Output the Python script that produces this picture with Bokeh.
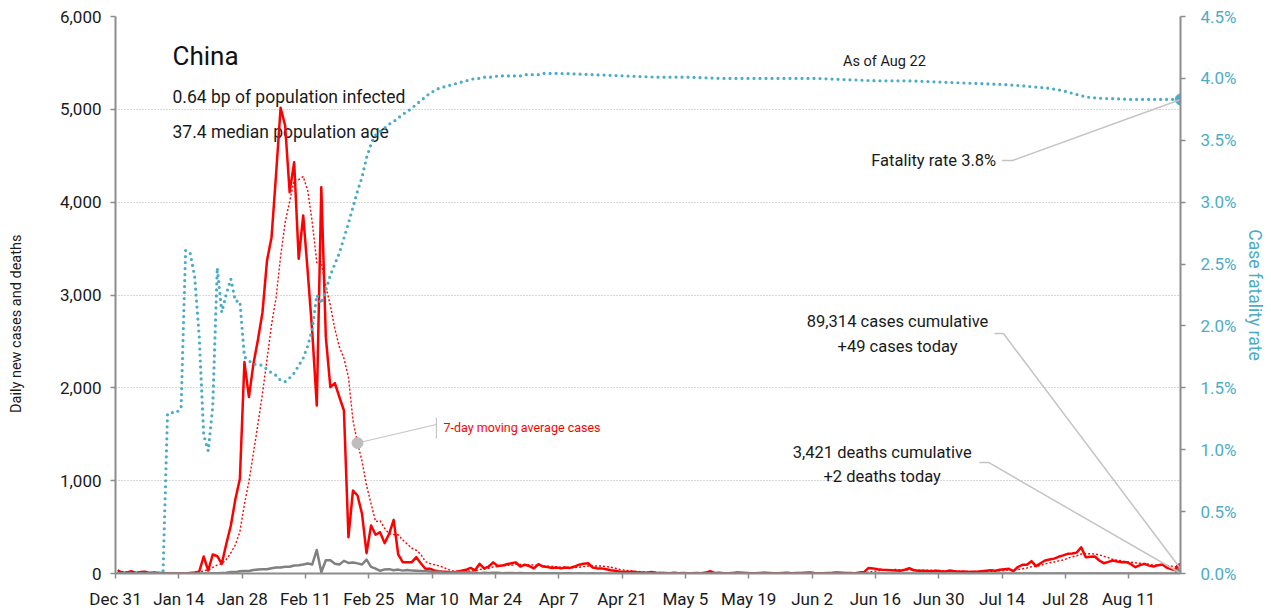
import pandas as pd
from bokeh.plotting import figure
from bokeh.models import (Range1d, LinearAxis, FixedTicker, NumeralTickFormatter,
                          PrintfTickFormatter, Label, ColumnDataSource)
from bokeh.embed import file_html
from bokeh.resources import INLINE

# ---------------- data ----------------
start_date = "2019-12-31"

new_cases = [
    35, 5, 10, 25, 5, 15, 20, 5, 10, 5, 5, 0, 0, 0, 0, 0, 5, 10, 20,
    183, 32, 205, 186, 104, 320, 517, 800, 1020, 2277, 1900, 2260, 2520, 2815, 3372, 3623,
    4300, 5017, 4826, 4108, 4431, 3390, 3857, 3250, 2600, 1810, 4162, 2546, 2007, 2050,
    1900, 1756, 391, 894, 840, 643, 219, 517, 417, 445, 327, 428, 578, 205, 122, 122,
    122, 176, 111, 51, 51, 32, 25,
    20, 15, 12, 20, 30, 40, 60, 35, 104, 55, 75, 120, 80, 85, 100, 110, 120, 75, 95, 80,
    55, 100, 75, 70, 60, 65, 55, 65, 60, 75, 95, 105, 110, 65, 55, 55, 45, 35, 30, 20,
    18, 15, 20, 12, 10, 8, 15, 8, 5,
    5, 3, 8, 4, 6, 3, 2, 5, 4, 10, 25,
    5, 8, 4, 3, 6, 10, 7, 5, 3, 4, 6, 8, 5, 3, 2, 5, 7, 4, 6, 5, 8, 10, 6, 4, 3, 5, 7,
    12, 8, 5, 6, 4, 10, 15,
    60, 55, 45, 40, 38, 35, 32, 30, 40, 57, 35, 30,
    30, 28, 25, 30, 25, 22, 32, 25, 20, 22, 15, 18, 20, 25, 30, 35, 30, 40,
    45, 50, 25, 70, 94, 94, 133, 79, 110, 140, 150, 160, 180, 195, 212, 215, 225, 283,
    176, 180, 183, 140, 111, 125, 140, 130, 122, 122, 100, 68, 90, 104, 85, 75, 90, 97,
    60, 45, 35, 49,
]

new_deaths = [
    0, 0, 0, 0, 0, 0, 0, 0, 0, 0, 0, 0, 0, 0, 0, 0, 0, 0, 0, 0, 0,
    3, 3, 5, 8, 16, 15, 24, 26, 26, 38, 43, 46, 45, 57, 64, 65, 73, 73, 86, 89,
    97, 108, 97, 254, 13, 143, 142, 105, 98, 136, 114, 118, 109, 97, 150, 71, 52, 29, 44, 47,
    35, 42, 31, 38, 31, 30, 28, 27, 22, 17, 22, 11, 7, 13, 10, 14, 13, 11, 8, 3,
    7, 6, 9, 7, 4, 6, 5, 3, 5, 4,
    3, 4, 2, 3, 4, 3, 2, 1, 2, 3, 1, 2, 1, 1, 2, 1, 0, 1, 1, 0, 0, 1, 0, 0, 1, 0, 0, 0, 1, 0,
    0, 0, 1, 0, 0, 0, 0, 0, 0, 0, 1, 0, 0, 0, 0, 0, 0, 0, 0, 0, 0, 0, 0, 0, 0, 0, 0, 0, 0, 0,
    0, 0, 0, 0, 0, 0, 0, 0, 0, 0, 0, 0, 0, 0, 0, 0, 0, 0, 0, 0, 0, 0, 0, 0, 0, 0, 0, 0, 0, 0,
    0, 0, 0, 0, 0, 0, 0, 0, 0, 0, 0, 0, 0, 0, 0, 0, 0, 0, 0, 0, 0, 0, 0, 0, 0, 0, 0, 0, 0, 0,
    0, 0, 0, 1, 0, 0, 0, 1, 0, 0, 0, 1, 0, 0, 0, 1, 0, 0, 0, 0, 0, 0, 0, 0, 2,
]

# case fatality rate (%), daily from Dec 31 to Apr 6
cfr_head = [
    0, 0, 0, 0, 0, 0, 0, 0, 0, 0, 0,
    1.29, 1.30, 1.30, 1.34, 2.61, 2.59, 2.40, 1.92, 1.12, 0.99, 1.35, 2.47, 2.11, 2.26,
    2.38, 2.20, 2.20, 1.75, 1.72, 1.69, 1.69, 1.68, 1.65, 1.62, 1.60, 1.56, 1.55, 1.58,
    1.62, 1.68, 1.74, 1.84, 1.97, 2.25, 2.18, 2.29, 2.41, 2.50, 2.59, 2.71, 2.83, 2.96,
    3.09, 3.20, 3.36, 3.47, 3.54, 3.57, 3.60, 3.63, 3.65, 3.68, 3.71, 3.73, 3.76, 3.79,
    3.82, 3.85, 3.88, 3.90, 3.92,
    3.93, 3.94, 3.95, 3.96, 3.97, 3.98, 3.99, 4.00, 4.00, 4.01, 4.01, 4.01, 4.02, 4.02,
    4.02, 4.02, 4.02, 4.02, 4.03, 4.03, 4.03, 4.03, 4.04, 4.04, 4.04, 4.04,
]
cfr_tail_dates = [
    "2020-04-07", "2020-04-14", "2020-04-21", "2020-04-28", "2020-05-05", "2020-05-12",
    "2020-05-19", "2020-05-26", "2020-06-02", "2020-06-09", "2020-06-16", "2020-06-23",
    "2020-06-30", "2020-07-07", "2020-07-14", "2020-07-18", "2020-07-21", "2020-07-24",
    "2020-07-27", "2020-07-29", "2020-07-31", "2020-08-02", "2020-08-04", "2020-08-11",
    "2020-08-22",
]
cfr_tail = [
    4.04, 4.03, 4.02, 4.01, 4.01, 4.00, 4.00, 4.00, 4.00, 3.99, 3.98, 3.98, 3.97, 3.96,
    3.95, 3.94, 3.93, 3.92, 3.90, 3.88, 3.86, 3.845, 3.84, 3.83, 3.83,
]

tick_labels = ["Dec 31", "Jan 14", "Jan 28", "Feb 11", "Feb 25", "Mar 10", "Mar 24",
               "Apr 7", "Apr 21", "May 5", "May 19", "Jun 2", "Jun 16", "Jun 30",
               "Jul 14", "Jul 28", "Aug 11"]
left_ticks = [0, 1000, 2000, 3000, 4000, 5000, 6000]
right_ticks = [0.0, 0.5, 1.0, 1.5, 2.0, 2.5, 3.0, 3.5, 4.0, 4.5]

country = "China"
subtitle1 = "0.64 bp of population infected"
subtitle2 = "37.4 median population age"
as_of = "As of Aug 22"
cum_cases_text = ["89,314 cases cumulative", "+49 cases today"]
cum_deaths_text = ["3,421 deaths cumulative", "+2 deaths today"]
fatality_text = "Fatality rate 3.8%"
ma_text = "7-day moving average cases"
left_title = "Daily new cases and deaths"
right_title = "Case fatality rate"

# ---------------- helpers ----------------
EPOCH = pd.Timestamp("1970-01-01")
T0 = pd.Timestamp(start_date)
HALF = pd.Timedelta(hours=12)


def ms(ts):
    return (pd.Timestamp(ts) - EPOCH) / pd.Timedelta(milliseconds=1)


def at_day(d):
    return ms(T0 + pd.Timedelta(days=d))


FONT = "Roboto"
TEAL = "#4bacc6"
RED = "#ff0000"
GRAY = "#808080"
LEAD = "#c4c4c4"
INK = "#1a1a1a"

dates = pd.date_range(start_date, periods=len(new_cases), freq="D")
xs = [ms(d + HALF) for d in dates]
ma7 = pd.Series(new_cases, dtype=float).rolling(7, min_periods=1).mean().tolist()

cfr_dates = list(dates[:len(cfr_head)]) + [pd.Timestamp(d) for d in cfr_tail_dates]
cfr_x = [ms(d + HALF) for d in cfr_dates]
cfr_vals = cfr_head + cfr_tail

src = ColumnDataSource(dict(x=xs, cases=new_cases, deaths=new_deaths, ma=ma7))
cfr_src = ColumnDataSource(dict(x=cfr_x, cfr=cfr_vals))

# ---------------- figure ----------------
p = figure(width=1271, height=615, x_axis_type="datetime",
           x_range=Range1d(at_day(0), at_day(235.45)), y_range=Range1d(0, 6000),
           output_backend="svg", toolbar_location=None,
           min_border_left=115, min_border_right=91, min_border_top=16, min_border_bottom=42)
p.outline_line_color = None
p.background_fill_color = "white"
p.extra_y_ranges = {"cfr": Range1d(0, 4.5)}

p.xgrid.visible = False
p.ygrid.ticker = FixedTicker(ticks=left_ticks)
p.ygrid.grid_line_color = "#b0b0b0"
p.ygrid.grid_line_dash = "1 2"
p.ygrid.grid_line_width = 1

tick_ms = [at_day(14 * i) for i in range(len(tick_labels))]
p.xaxis.ticker = FixedTicker(ticks=tick_ms)
p.xaxis.major_label_overrides = {t: l for t, l in zip(tick_ms, tick_labels)}

p.yaxis.ticker = FixedTicker(ticks=left_ticks)
p.yaxis.formatter = NumeralTickFormatter(format="0,0")
# trailing no-break spaces push the title a little below the frame centre, as in the original
p.yaxis.axis_label = left_title + "\u00a0" * 16

right = LinearAxis(y_range_name="cfr", ticker=FixedTicker(ticks=right_ticks),
                   formatter=PrintfTickFormatter(format="%.1f%%"),
                   axis_label=right_title)
p.add_layout(right, "right")

for ax in [p.xaxis[0], p.yaxis[0], right]:
    ax.axis_line_color = "#8c8c8c"
    ax.axis_line_width = 2
    ax.major_tick_line_color = "#8c8c8c"
    ax.major_tick_line_width = 1.5
    ax.major_tick_out = 5
    ax.major_tick_in = 0
    ax.minor_tick_line_color = None
    ax.major_label_text_font = FONT
    ax.major_label_text_font_size = "17px"
    ax.major_label_text_color = INK
    ax.axis_label_text_font = FONT
    ax.axis_label_text_font_size = "14.5px"
    ax.axis_label_text_font_style = "normal"
    ax.axis_label_text_color = INK

p.xaxis.major_label_standoff = 10
p.yaxis.major_label_standoff = 9
p.yaxis.axis_label_standoff = 32
right.major_label_standoff = 15
right.major_label_text_color = TEAL
right.axis_label_text_color = TEAL
right.axis_label_text_font_size = "17.5px"
right.axis_label_standoff = 5

# ---------------- glyphs ----------------
p.line("x", "ma", source=src, line_color=RED, line_width=1.4, line_dash="2 2")
p.line("x", "cases", source=src, line_color=RED, line_width=2.5, line_join="round")
p.line("x", "deaths", source=src, line_color=GRAY, line_width=2.5, line_join="round")
p.line("x", "cfr", source=cfr_src, y_range_name="cfr", line_color=TEAL, line_width=3.2,
       line_dash="0 6", line_cap="round")

last_x = xs[-1]
p.scatter([last_x], [new_cases[-1]], size=11, color=RED)
p.scatter([last_x], [new_deaths[-1]], size=11, color=GRAY)
p.scatter([last_x], [cfr_vals[-1]], size=11, color=TEAL, y_range_name="cfr")

# ---------------- annotations ----------------
# 7-day average callout
ma_day = 53
p.line([xs[ma_day], at_day(70.95)], [ma7[ma_day], 1605], line_color=LEAD, line_width=1.2)
p.line([at_day(70.95), at_day(70.95)], [1454, 1680], line_color=LEAD, line_width=1.2)
p.scatter([xs[ma_day]], [ma7[ma_day]], size=11, color="#bdbdbd")
p.add_layout(Label(x=at_day(72.5), y=1573, text=ma_text, text_font=FONT,
                   text_font_size="12.5px", text_color=RED, text_baseline="middle"))

# fatality rate leader
p.line([at_day(196.0), at_day(198.3), last_x], [3.336, 3.336, cfr_vals[-1]],
       y_range_name="cfr", line_color=LEAD, line_width=1.5)
p.add_layout(Label(x=at_day(194.7), y=3.336, y_range_name="cfr", text=fatality_text,
                   text_font=FONT, text_font_size="16.5px", text_color=INK,
                   text_align="right", text_baseline="middle"))

# cumulative cases leader
p.line([at_day(194.3), at_day(196.3), last_x], [2585, 2585, new_cases[-1]],
       line_color=LEAD, line_width=1.5)
for t, yv in zip(cum_cases_text, [2715, 2445]):
    p.add_layout(Label(x=at_day(172.9), y=yv, text=t, text_font=FONT,
                       text_font_size="16.5px", text_color=INK,
                       text_align="center", text_baseline="middle"))

# cumulative deaths leader
p.line([at_day(191.0), at_day(193.0), last_x], [1196, 1196, new_deaths[-1]],
       line_color=LEAD, line_width=1.5)
for t, yv in zip(cum_deaths_text, [1303, 1045]):
    p.add_layout(Label(x=at_day(169.5), y=yv, text=t, text_font=FONT,
                       text_font_size="16.5px", text_color=INK,
                       text_align="center", text_baseline="middle"))

p.add_layout(Label(x=at_day(170.0), y=5515, text=as_of, text_font=FONT,
                   text_font_size="14.5px", text_color=INK,
                   text_align="center", text_baseline="middle"))

p.add_layout(Label(x=at_day(12.6), y=5575, text=country, text_font=FONT,
                   text_font_size="26px", text_color="#111111",
                   text_baseline="middle", level="underlay"))
p.add_layout(Label(x=at_day(12.6), y=5133, text=subtitle1, text_font=FONT,
                   text_font_size="17.5px", text_color=INK,
                   text_baseline="middle", level="underlay"))
p.add_layout(Label(x=at_day(12.6), y=4761, text=subtitle2, text_font=FONT,
                   text_font_size="17.5px", text_color=INK,
                   text_baseline="middle", level="underlay"))

open("out.html", "w").write(file_html(p, INLINE))
